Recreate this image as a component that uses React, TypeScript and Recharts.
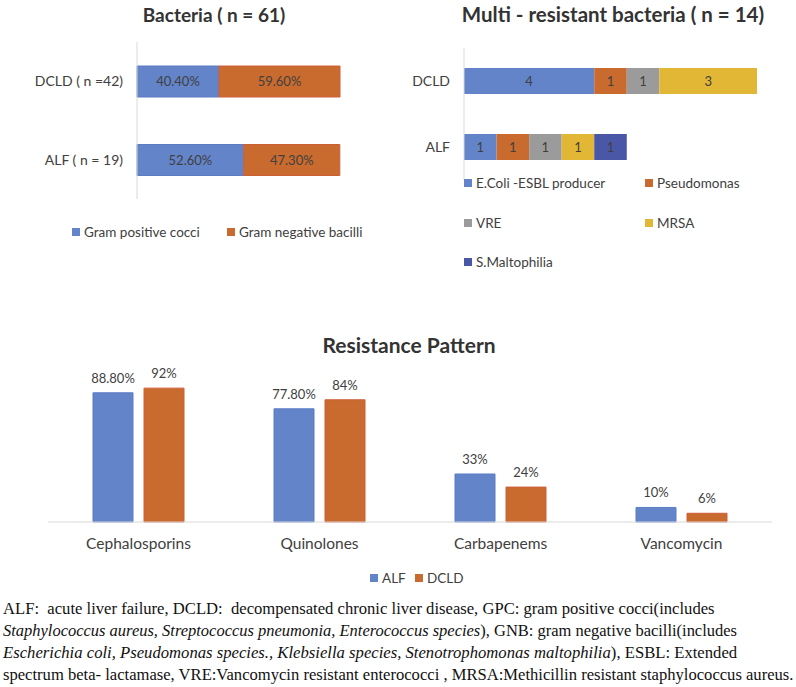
import React, { useLayoutEffect, useRef, useState } from 'react';
import { BarChart, Bar, XAxis, YAxis, LabelList } from 'recharts';

// Bacteria (n = 61)
const bacteriaGroups = ['DCLD ( n =42)', 'ALF ( n = 19)'];
const gramPositive = [40.4, 52.6];
const gramNegative = [59.6, 47.3];

// Multi-resistant bacteria (n = 14)
const mdrGroups = ['DCLD', 'ALF'];
const ecoliEsbl = [4, 1];
const pseudomonas = [1, 1];
const vre = [1, 1];
const mrsa = [3, 1];
const maltophilia = [null, 1];

// Resistance pattern
const drugClasses = ['Cephalosporins', 'Quinolones', 'Carbapenems', 'Vancomycin'];
const alfResist = [88.8, 77.8, 33, 10];
const dcldResist = [92, 84, 24, 6];
const alfResistLabels = ['88.80%', '77.80%', '33%', '10%'];
const dcldResistLabels = ['92%', '84%', '24%', '6%'];

const BLUE = '#6384c9';
const ORANGE = '#c96b2e';
const GRAY = '#9b9b9b';
const YELLOW = '#e2b735';
const NAVY = '#4a57a6';
const TEXT = '#404040';
const AXIS = '#d9d9d9';
const FONT = 'Lato, "Open Sans", sans-serif';

const bacteriaData = bacteriaGroups.map((g, i) => ({
    name: g,
    gpc: gramPositive[i],
    gnb: gramNegative[i]
}));

const mdrData = mdrGroups.map((g, i) => ({
    name: g,
    ecoli: ecoliEsbl[i],
    pseudo: pseudomonas[i],
    vre: vre[i],
    mrsa: mrsa[i],
    malto: maltophilia[i]
}));

const resistData = drugClasses.map((c, i) => ({
    name: c,
    alf: alfResist[i],
    dcld: dcldResist[i],
    alfLabel: alfResistLabels[i],
    dcldLabel: dcldResistLabels[i]
}));

// one legend entry, square + text, vertically centred on cy
const LegendItem = ({ x, cy, color, label }: { x: number; cy: number; color: string; label: string }) => (
    <div
        style={{
            position: 'absolute',
            left: x,
            top: cy - 10,
            height: 20,
            display: 'flex',
            alignItems: 'center',
            whiteSpace: 'nowrap',
            fontFamily: FONT,
            fontSize: 13.5,
            color: TEXT
        }}
    >
        <span style={{ width: 8, height: 8, background: color, marginRight: 4, display: 'inline-block' }} />
        {label}
    </div>
);

const Title = ({ cx, cy, size, children }: { cx: number; cy: number; size: number; children: React.ReactNode }) => (
    <div
        style={{
            position: 'absolute',
            left: cx - 200,
            width: 400,
            top: cy - size * 0.6,
            lineHeight: `${size * 1.2}px`,
            textAlign: 'center',
            fontFamily: FONT,
            fontWeight: 700,
            fontSize: size,
            color: '#333',
            whiteSpace: 'nowrap'
        }}
    >
        {children}
    </div>
);

// footnote line squeezed / stretched to the width it has in the figure
const FootLine = ({ target, children }: { target: number; children: React.ReactNode }) => {
    const ref = useRef<HTMLDivElement>(null);
    const [scale, setScale] = useState(1);
    useLayoutEffect(() => {
        const w = ref.current ? ref.current.scrollWidth : 0;
        if (w > 0) setScale(target / w);
    }, [target]);
    return (
        <div style={{ height: 22 }}>
            <div ref={ref} style={{ display: 'inline-block', transform: `scaleX(${scale})`, transformOrigin: 'left center' }}>
                {children}
            </div>
        </div>
    );
};

const pctFmt = (v: any) => `${Number(v).toFixed(2)}%`;
const countFmt = (v: any) => (v ? String(v) : '');

const labelProps = { fill: TEXT, fontSize: 13, fontFamily: FONT };

export default function App() {
    return (
        <div style={{ position: 'absolute', left: 0, top: 0, width: 796, height: 687, background: '#fff', overflow: 'hidden' }}>
            <Title cx={214} cy={15} size={19}>Bacteria ( n = 61)</Title>
            <Title cx={613} cy={14} size={20.5}>Multi - resistant bacteria ( n = 14)</Title>
            <Title cx={409} cy={345} size={21}>Resistance Pattern</Title>

            <div style={{ position: 'absolute', left: 0, top: 0 }}>
                <BarChart
                    width={400}
                    height={250}
                    data={bacteriaData}
                    layout="vertical"
                    margin={{ top: 42, right: 60, bottom: 51, left: 0 }}
                    barSize={31}
                >
                    <XAxis type="number" domain={[0, 100]} hide />
                    <YAxis
                        type="category"
                        dataKey="name"
                        width={137}
                        axisLine={{ stroke: AXIS }}
                        tickLine={false}
                        tickSize={0}
                        tickMargin={14}
                        tick={{ fill: TEXT, fontSize: 14, fontFamily: FONT }}
                    />
                    <Bar dataKey="gpc" name="Gram positive cocci" stackId="a" fill={BLUE} stroke="#5c7dc6" isAnimationActive={false}>
                        <LabelList dataKey="gpc" position="center" formatter={pctFmt} {...labelProps} />
                    </Bar>
                    <Bar dataKey="gnb" name="Gram negative bacilli" stackId="a" fill={ORANGE} stroke="#cf5f38" isAnimationActive={false}>
                        <LabelList dataKey="gnb" position="center" formatter={pctFmt} {...labelProps} />
                    </Bar>
                </BarChart>
            </div>
            <LegendItem x={72} cy={232} color={BLUE} label="Gram positive cocci" />
            <LegendItem x={227} cy={232} color={ORANGE} label="Gram negative bacilli" />

            <div style={{ position: 'absolute', left: 400, top: 0 }}>
                <BarChart
                    width={396}
                    height={280}
                    data={mdrData}
                    layout="vertical"
                    margin={{ top: 48, right: 39, bottom: 100, left: 0 }}
                    barSize={26}
                >
                    <XAxis type="number" domain={[0, 9]} hide />
                    <YAxis
                        type="category"
                        dataKey="name"
                        width={64}
                        axisLine={{ stroke: AXIS }}
                        tickLine={false}
                        tickSize={0}
                        tickMargin={14}
                        tick={{ fill: TEXT, fontSize: 14, fontFamily: FONT }}
                    />
                    <Bar dataKey="ecoli" name="E.Coli -ESBL producer" stackId="m" fill={BLUE} isAnimationActive={false}>
                        <LabelList dataKey="ecoli" position="center" formatter={countFmt} {...labelProps} />
                    </Bar>
                    <Bar dataKey="pseudo" name="Pseudomonas" stackId="m" fill={ORANGE} isAnimationActive={false}>
                        <LabelList dataKey="pseudo" position="center" formatter={countFmt} {...labelProps} />
                    </Bar>
                    <Bar dataKey="vre" name="VRE" stackId="m" fill={GRAY} isAnimationActive={false}>
                        <LabelList dataKey="vre" position="center" formatter={countFmt} {...labelProps} />
                    </Bar>
                    <Bar dataKey="mrsa" name="MRSA" stackId="m" fill={YELLOW} isAnimationActive={false}>
                        <LabelList dataKey="mrsa" position="center" formatter={countFmt} {...labelProps} />
                    </Bar>
                    <Bar dataKey="malto" name="S.Maltophilia" stackId="m" fill={NAVY} isAnimationActive={false}>
                        <LabelList dataKey="malto" position="center" formatter={countFmt} {...labelProps} />
                    </Bar>
                </BarChart>
            </div>
            <LegendItem x={464} cy={183} color={BLUE} label="E.Coli -ESBL producer" />
            <LegendItem x={645} cy={183} color={ORANGE} label="Pseudomonas" />
            <LegendItem x={464} cy={223} color={GRAY} label="VRE" />
            <LegendItem x={645} cy={223} color={YELLOW} label="MRSA" />
            <LegendItem x={464} cy={262} color={NAVY} label="S.Maltophilia" />

            <div style={{ position: 'absolute', left: 0, top: 300 }}>
                <BarChart
                    width={796}
                    height={300}
                    data={resistData}
                    margin={{ top: 76.5, right: 24, bottom: 48, left: 48 }}
                    barSize={40}
                    barGap={11}
                >
                    <XAxis
                        dataKey="name"
                        height={30}
                        axisLine={{ stroke: AXIS }}
                        tickLine={false}
                        tickSize={0}
                        tickMargin={16}
                        tick={{ fill: TEXT, fontSize: 15.5, fontFamily: FONT }}
                    />
                    <YAxis domain={[0, 100]} hide />
                    <Bar dataKey="alf" name="ALF" fill={BLUE} stroke="#5c7dc6" isAnimationActive={false}>
                        <LabelList dataKey="alfLabel" position="top" offset={10} {...labelProps} />
                    </Bar>
                    <Bar dataKey="dcld" name="DCLD" fill={ORANGE} stroke="#cf5f38" isAnimationActive={false}>
                        <LabelList dataKey="dcldLabel" position="top" offset={10} {...labelProps} />
                    </Bar>
                </BarChart>
            </div>
            <LegendItem x={370} cy={578} color={BLUE} label="ALF" />
            <LegendItem x={415} cy={578} color={ORANGE} label="DCLD" />

            <div
                style={{
                    position: 'absolute',
                    left: 3,
                    top: 598,
                    fontFamily: '"Liberation Serif", serif',
                    fontSize: 16.5,
                    lineHeight: '22px',
                    color: '#111',
                    whiteSpace: 'pre'
                }}
            >
                <FootLine target={712}>ALF:  acute liver failure, DCLD:  decompensated chronic liver disease, GPC: gram positive cocci(includes</FootLine>
                <FootLine target={734}><i>Staphylococcus aureus, Streptococcus pneumonia, Enterococcus species</i>), GNB: gram negative bacilli(includes</FootLine>
                <FootLine target={734}><i>Escherichia coli, Pseudomonas species., Klebsiella species, Stenotrophomonas maltophilia</i>), ESBL: Extended</FootLine>
                <FootLine target={790}>spectrum beta- lactamase, VRE:Vancomycin resistant enterococci , MRSA:Methicillin resistant staphylococcus aureus.</FootLine>
            </div>
        </div>
    );
}
